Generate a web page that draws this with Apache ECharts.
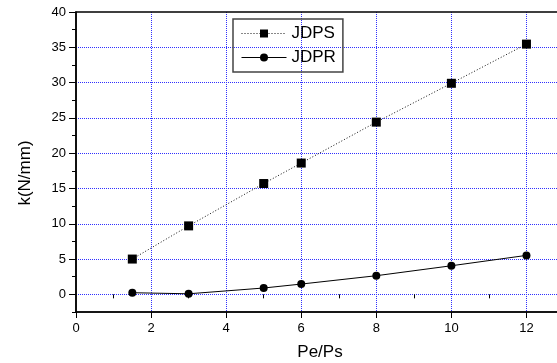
<!DOCTYPE html>
<html>
<head>
<meta charset="utf-8">
<script src="https://cdn.jsdelivr.net/npm/echarts@6/dist/echarts.min.js"></script>
<style>
html, body { margin: 0; padding: 0; background: #fff; }
#main { width: 557px; height: 363px; }
</style>
</head>
<body>
<div id="main"></div>
<script>
// data
var pePs = [1.5, 3, 5, 6, 8, 10, 12];
var jdps = [5.0, 9.7, 15.7, 18.6, 24.4, 29.9, 35.45];
var jdpr = [0.23, 0.08, 0.9, 1.46, 2.64, 4.05, 5.52];

// ticks
var xTicks = [0, 2, 4, 6, 8, 10, 12];
var xMinorTicks = [1, 3, 5, 7, 9, 11];
var yTicks = [0, 5, 10, 15, 20, 25, 30, 35, 40];
var yMinorTicks = [-2.5, 2.5, 7.5, 12.5, 17.5, 22.5, 27.5, 32.5, 37.5];

var font = 'Liberation Sans, Arial, sans-serif';
var dotted = { width: 1, type: [1, 2], color: '#111' };

function pairs(ys) {
    return pePs.map(function (x, i) { return [x, ys[i]]; });
}

var myChart = echarts.init(document.getElementById('main'));

var option = {
    backgroundColor: '#fff',
    animation: false,
    textStyle: { fontFamily: font },
    grid: {
        left: 76, top: 12, width: 488, height: 300,
        outerBoundsMode: 'none', containLabel: false,
        show: true, borderColor: '#000', borderWidth: 1.5, z: 5
    },
    legend: {
        orient: 'vertical',
        left: 233, top: 19,
        itemWidth: 45, itemHeight: 10, itemGap: 7,
        padding: [6, 7, 6, 8],
        borderColor: '#444', borderWidth: 1.5,
        textStyle: { fontSize: 17, color: '#000', fontFamily: font },
        data: [
            { name: 'JDPS', lineStyle: dotted },
            { name: 'JDPR', lineStyle: { width: 1, type: 'solid', color: '#000' } }
        ]
    },
    xAxis: [{
        type: 'value', min: 0, max: 13,
        name: 'Pe/Ps', nameLocation: 'middle', nameGap: 32,
        nameTextStyle: { fontSize: 17, color: '#000' },
        axisLine: { onZero: false, lineStyle: { color: '#222', width: 1.5 } },
        axisTick: { customValues: xTicks, length: 6, lineStyle: { color: '#000' } },
        axisLabel: {
            customValues: xTicks, fontSize: 13, color: '#000', margin: 10,
            formatter: function (v) { return xTicks.indexOf(v) >= 0 ? String(v) : ''; }
        },
        splitLine: {
            show: true, showMinLine: false,
            lineStyle: { color: '#3030ff', type: 'dotted', width: 1 }
        }
    }, {
        type: 'value', min: 0, max: 13, position: 'bottom',
        axisLine: { show: false },
        axisTick: { customValues: xMinorTicks, length: 4, lineStyle: { color: '#000' } },
        axisLabel: { show: false },
        splitLine: { show: false }
    }],
    yAxis: [{
        type: 'value', min: -2.5, max: 40,
        axisLine: { onZero: false, lineStyle: { color: '#000', width: 1.5 } },
        axisTick: { customValues: yTicks, length: 7, lineStyle: { color: '#000' } },
        axisLabel: { customValues: yTicks, fontSize: 13, color: '#000', margin: 10 },
        splitLine: {
            show: true, showMaxLine: false,
            lineStyle: { color: '#3030ff', type: 'dotted', width: 1 }
        }
    }, {
        type: 'value', min: -2.5, max: 40, position: 'left',
        axisLine: { show: false },
        axisTick: { customValues: yMinorTicks, length: 4, lineStyle: { color: '#000' } },
        axisLabel: { show: false },
        splitLine: { show: false }
    }],
    graphic: [{
        type: 'text',
        x: 25, y: 173,
        rotation: Math.PI / 2,
        style: {
            text: 'k(N/mm)',
            font: '17px ' + font,
            fill: '#000',
            align: 'center', verticalAlign: 'middle',
            textAlign: 'center', textVerticalAlign: 'middle'
        }
    }],
    series: [{
        name: 'JDPS',
        type: 'line',
        data: pairs(jdps),
        symbol: 'rect', symbolSize: 9,
        itemStyle: { color: '#000' },
        lineStyle: dotted
    }, {
        name: 'JDPR',
        type: 'line',
        data: pairs(jdpr),
        symbol: 'circle', symbolSize: 8,
        itemStyle: { color: '#000' },
        lineStyle: { color: '#000', width: 1 }
    }]
};

myChart.setOption(option);
</script>
</body>
</html>
